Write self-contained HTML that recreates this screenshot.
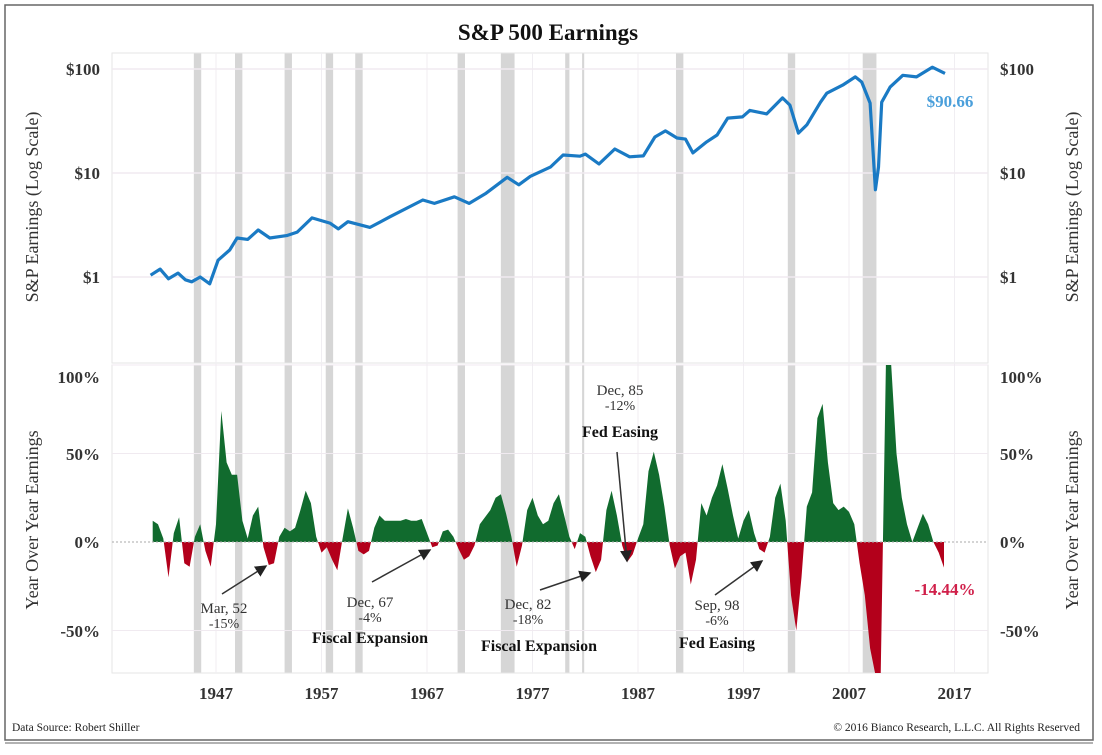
<!DOCTYPE html>
<html><head><meta charset="utf-8"><style>
html,body{margin:0;padding:0;background:#fff;}
svg{display:block;font-family:"Liberation Serif",serif;}
</style></head><body>
<svg id="chart" width="1102" height="755" viewBox="0 0 1102 755" xmlns="http://www.w3.org/2000/svg">
<rect x="5" y="5" width="1088" height="735" fill="#fff" stroke="#666" stroke-width="1.5"/>
<line x1="5" y1="743" x2="1093" y2="743" stroke="#999" stroke-width="1.5"/>
<text x="548" y="40" text-anchor="middle" font-size="23" font-weight="bold" fill="#111">S&amp;P 500 Earnings</text>
<g id="recG"></g>
<g id="gridG"></g>
<g id="topG"></g>
<g id="botG"></g>
<g id="annG"></g>
<text transform="translate(38,207) rotate(-90)" text-anchor="middle" font-size="18" fill="#333">S&amp;P Earnings (Log Scale)</text>
<text transform="translate(1078,207) rotate(-90)" text-anchor="middle" font-size="18" fill="#333">S&amp;P Earnings (Log Scale)</text>
<text transform="translate(38,520) rotate(-90)" text-anchor="middle" font-size="18" fill="#333">Year Over Year Earnings</text>
<text transform="translate(1078,520) rotate(-90)" text-anchor="middle" font-size="18" fill="#333">Year Over Year Earnings</text>
<text x="12" y="731" font-size="11.5" fill="#222">Data Source: Robert Shiller</text>
<text x="1080" y="731" text-anchor="end" font-size="11.5" fill="#222">© 2016  Bianco Research, L.L.C. All Rights Reserved</text>
</svg>
<script>
const xTickYears = [1947,1957,1967,1977,1987,1997,2007,2017];
const logTicks = [1,10,100];
const logTickLabels = ["$1","$10","$100"];
const pctTicks = [100,50,0,-50];
const pctTickLabels = ["100%","50%","0%","-50%"];
const recessionStarts = [1944.9,1948.8,1953.5,1957.4,1960.2,1969.9,1974.0,1980.1,1981.7,1990.6,2001.2,2008.3];
const recessionEnds   = [1945.6,1949.5,1954.2,1958.1,1960.9,1970.6,1975.3,1980.5,1981.9,1991.3,2001.9,2009.6];
const earnYears = [1940.8,1941.7,1942.5,1943.4,1944.1,1944.7,1945.5,1946.4,1947.2,1948.3,1949.0,1950.0,1951.0,1952.1,1953.7,1954.7,1956.1,1957.8,1958.6,1959.5,1961.6,1963.5,1966.6,1967.7,1969.6,1971.0,1972.6,1974.6,1975.7,1976.8,1978.7,1979.9,1981.5,1982.0,1983.3,1984.8,1986.2,1987.5,1988.6,1989.6,1990.7,1991.5,1992.2,1993.5,1994.5,1995.5,1996.9,1997.6,1999.2,2000.7,2001.4,2002.2,2003.0,2004.3,2004.9,2006.4,2007.6,2008.2,2009.0,2009.5,2009.8,2010.1,2010.9,2012.1,2013.4,2014.9,2016.1];
const earnValues = [1.04,1.19,0.96,1.09,0.94,0.9,1.0,0.86,1.45,1.82,2.37,2.3,2.83,2.37,2.5,2.7,3.7,3.3,2.9,3.4,3.0,3.8,5.5,5.1,5.9,5.1,6.4,9.1,7.7,9.3,11.4,14.9,14.5,15.2,12.2,17.0,14.3,14.6,22.2,25.4,21.7,21.2,15.6,19.9,23.2,33.7,34.6,40,37,52.7,45,24.2,29,48,58.5,70,84,75,47,6.9,11.4,48,67,87,84,104,90.66];
const yoyStartYear = 1941.0;
const yoyStep = 0.5;
const yoyValues = [12,10,2,-20,5,14,-12,-14,3,10,-5,-14,10,74,45,38,38,12,2,15,20,-3,-13,-12,3,8,6,8,18,29,22,3,-6,-3,-10,-16,2,19,8,-5,-7,-5,8,15,12,12,12,12,13,12,12,13,5,-3,-2,6,7,3,-4,-10,-8,-2,10,14,18,25,27,16,3,-14,-2,18,25,15,10,12,22,27,15,3,-4,5,3,-8,-17,-10,18,29,15,-2,-11,-7,2,10,40,51,38,20,-2,-15,-8,-6,-24,-10,22,15,25,32,44,30,15,2,12,18,5,-4,-6,3,25,33,12,-30,-50,-20,20,28,70,78,45,22,18,20,17,10,-12,-30,-60,-75,-75,100,100,50,25,10,0,8,16,10,0,-6,-14.44];
const lastEarnLabel = "$90.66";
const lastYoyLabel = "-14.44%";

const NS="http://www.w3.org/2000/svg";
const L=112,R=988,T1=53,B1=363,T2=365,B2=673;
function x(yr){return 216+(yr-1947)*10.55;}
function yLog(v){return 277-104*Math.log10(v);}
function yPct(v){return 542-1.77*v;}
function mk(tag,attrs,parent){const e=document.createElementNS(NS,tag);for(const k in attrs)e.setAttribute(k,attrs[k]);parent.appendChild(e);return e;}
const recLayer=document.getElementById('recG'),gridLayer=document.getElementById('gridG'),topPanel=document.getElementById('topG'),botPanel=document.getElementById('botG'),annLayer=document.getElementById('annG');

const p1=mk('rect',{x:L,y:T1,width:R-L,height:B1-T1,fill:'none',stroke:'#e6e6e6'},gridLayer);


const p2=mk('rect',{x:L,y:T2,width:R-L,height:B2-T2,fill:'none',stroke:'#e6e6e6'},gridLayer);


recessionStarts.forEach((s,i)=>{
  [[T1,B1],[T2,B2]].forEach(([a,b])=>{
    const r=mk('rect',{x:x(s),y:a,width:x(recessionEnds[i])-x(s),height:b-a,fill:'#d6d6d6'},recLayer);
    
    
  });
});
xTickYears.forEach(yr=>{
  const gl=mk('line',{x1:x(yr),x2:x(yr),y1:T1,y2:B2,stroke:'#f0eef2','stroke-width':1},gridLayer);
  
  
  const t=mk('text',{x:x(yr),y:699,'text-anchor':'middle','font-size':17,'font-weight':'bold',fill:'#333'},gridLayer);
  t.textContent=yr;
  
  
});
logTicks.forEach((v,i)=>{
  const gl=mk('line',{x1:L,x2:R,y1:yLog(v),y2:yLog(v),stroke:'#f0eaf0','stroke-width':1.5},gridLayer);
  
  
  const a=mk('text',{x:100,y:yLog(v)+6,'text-anchor':'end','font-size':17,'font-weight':'bold',fill:'#333'},gridLayer);
  a.textContent=logTickLabels[i];
  
  
  const b=mk('text',{x:1000,y:yLog(v)+6,'font-size':17,'font-weight':'bold',fill:'#333'},gridLayer);
  b.textContent=logTickLabels[i];
  
  
});
const pctLabelYs=[383,460,548,637];
pctTicks.forEach((v,i)=>{
  if(v!==0){const gl=mk('line',{x1:L,x2:R,y1:yPct(v),y2:yPct(v),stroke:'#f0eaf0','stroke-width':1},gridLayer);
  
  }
  const a=mk('text',{x:100,y:pctLabelYs[i],'text-anchor':'end','font-size':17,'font-weight':'bold',fill:'#333'},gridLayer);
  a.textContent=pctTickLabels[i];
  
  
  const b=mk('text',{x:1000,y:pctLabelYs[i],'font-size':17,'font-weight':'bold',fill:'#333'},gridLayer);
  b.textContent=pctTickLabels[i];
  
  
});
let d='';
earnYears.forEach((yr,i)=>{d+=(i?'L':'M')+x(yr).toFixed(1)+','+yLog(earnValues[i]).toFixed(1);});
const ln=mk('path',{d:d,fill:'none',stroke:'#1a7ac4','stroke-width':3.2,'stroke-linejoin':'round'},topPanel);


const el=mk('text',{x:950,y:107,'text-anchor':'middle','font-size':17,'font-weight':'bold',fill:'#4a9fdb'},topPanel);
el.textContent=lastEarnLabel;


const defs=mk('defs',{},botPanel);
const c1=mk('clipPath',{id:'cpPos'},defs);mk('rect',{x:L,y:T2,width:R-L,height:yPct(0)-T2},c1);
const c2=mk('clipPath',{id:'cpNeg'},defs);mk('rect',{x:L,y:yPct(0),width:R-L,height:B2-yPct(0)},c2);
const cl=v=>Math.max(-75,Math.min(100,v));
let ad='M'+x(yoyStartYear).toFixed(1)+','+yPct(0);
yoyValues.forEach((v,i)=>{ad+='L'+x(yoyStartYear+i*yoyStep).toFixed(1)+','+yPct(cl(v)).toFixed(1);});
ad+='L'+x(yoyStartYear+(yoyValues.length-1)*yoyStep).toFixed(1)+','+yPct(0)+'Z';
const pos=mk('path',{d:ad,fill:'#116b2e','clip-path':'url(#cpPos)'},botPanel);


const neg=mk('path',{d:ad,fill:'#b3001b','clip-path':'url(#cpNeg)'},botPanel);


const zl=mk('line',{x1:L,x2:R,y1:yPct(0),y2:yPct(0),stroke:'#aaa','stroke-dasharray':'2,2'},botPanel);


const yl=mk('text',{x:945,y:595,'text-anchor':'middle','font-size':17,'font-weight':'bold',fill:'#d0204a'},botPanel);
yl.textContent=lastYoyLabel;



mk('defs',{},annLayer).innerHTML='<marker id="ah" markerWidth="8" markerHeight="8" refX="7" refY="4" orient="auto"><path d="M0,0L8,4L0,8Z" fill="#222"/></marker>';
const annots=[
 {lines:["Mar, 52","-15%"],bold:null,cx:224,ty:613,ax1:222,ay1:594,ax2:266,ay2:566},
 {lines:["Dec, 67","-4%"],bold:"Fiscal Expansion",cx:370,ty:607,by:643,ax1:372,ay1:582,ax2:430,ay2:550},
 {lines:["Dec, 82","-18%"],bold:"Fiscal Expansion",cx:528,ty:609,by:651,bx:539,ax1:540,ay1:590,ax2:590,ay2:573},
 {lines:["Dec, 85","-12%"],bold:"Fed Easing",cx:620,ty:395,by:437,ax1:617,ay1:452,ax2:627,ay2:561},
 {lines:["Sep, 98","-6%"],bold:"Fed Easing",cx:717,ty:610,by:648,ax1:715,ay1:595,ax2:762,ay2:561}
];
annots.forEach(a=>{
  const g=mk('g',{},annLayer);
  
  
  a.lines.forEach((s,k)=>{
    const t=mk('text',{x:a.cx,y:a.ty+k*15,'text-anchor':'middle','font-size':k?14:15,fill:'#333'},g);
    t.textContent=s;
  });
  if(a.bold){const b=mk('text',{x:a.bx||a.cx,y:a.by,'text-anchor':'middle','font-size':16,'font-weight':'bold',fill:'#111'},g);b.textContent=a.bold;}
  const ar=mk('line',{x1:a.ax1,y1:a.ay1,x2:a.ax2,y2:a.ay2,stroke:'#333','stroke-width':1.5,'marker-end':'url(#ah)'},g);
  
  
});
</script>
</body></html>
